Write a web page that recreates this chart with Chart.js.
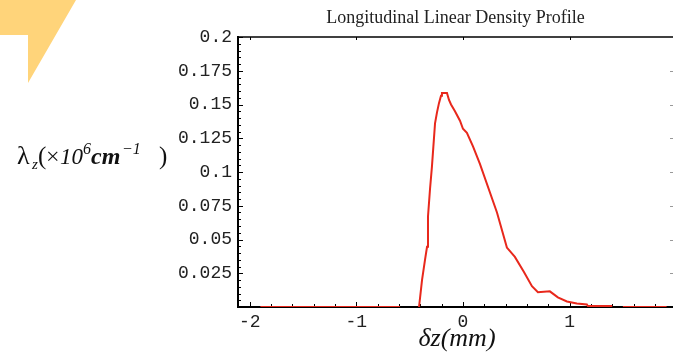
<!DOCTYPE html>
<html>
<head>
<meta charset="utf-8">
<script src="https://cdn.jsdelivr.net/npm/chart.js@4.4.1/dist/chart.umd.min.js"></script>
<style>
  html, body { margin: 0; padding: 0; background: #fff; }
  canvas { display: block; }
</style>
</head>
<body>
<canvas id="profileChart" width="673" height="354"></canvas>
<script>
// longitudinal position (mm) and linear density (x10^6 cm^-1), null = gap in the trace
const dzValues = [-1.9, -0.59, -0.5, -0.412, -0.384, -0.356, -0.337, -0.328, -0.309, -0.291,
  -0.262, -0.244, -0.225, -0.206, -0.197, -0.15, -0.131, -0.112, -0.075, -0.028,
  0, 0.037, 0.094, 0.159, 0.319, 0.412, 0.487, 0.572, 0.647, 0.703,
  0.815, 0.89, 0.975, 1.068, 1.162, 1.171, 1.4, 1.45, 1.5, 1.91];
const densityValues = [0, 0, null, 0, 0.0199, 0.0349, 0.0446, 0.0671, 0.0874, 0.104,
  0.136, 0.144, 0.151, 0.1565, 0.1586, 0.1586, 0.1534, 0.150, 0.145, 0.138,
  0.132, 0.129, 0.119, 0.106, 0.070, 0.044, 0.0371, 0.0259, 0.0154, 0.0109,
  0.0116, 0.0071, 0.0041, 0.0026, 0.0019, 0.0008, 0.0008, null, 0, 0];

const xTickValues = [-2, -1, 0, 1];
const xTickLabels = ['-2', '-1', '0', '1'];
const yTickValues = [0.025, 0.05, 0.075, 0.1, 0.125, 0.15, 0.175, 0.2];
const yTickLabels = ['0.025', '0.05', '0.075', '0.1', '0.125', '0.15', '0.175', '0.2'];

const chartTitle = 'Longitudinal Linear Density Profile';

function seg(ctx, x1, y1, x2, y2) {
  ctx.beginPath();
  ctx.moveTo(x1, y1);
  ctx.lineTo(x2, y2);
  ctx.stroke();
}

// frame, inward ticks, titles and the yellow corner mark
const framePlugin = {
  id: 'framePlugin',
  beforeDraw(chart) {
    const ctx = chart.ctx;
    ctx.save();
    ctx.fillStyle = '#fff';
    ctx.fillRect(0, 0, chart.width, chart.height);
    ctx.fillStyle = '#ffd47a';
    ctx.beginPath();
    ctx.moveTo(0, 0);
    ctx.lineTo(76, 0);
    ctx.lineTo(28, 83);
    ctx.lineTo(28, 35);
    ctx.lineTo(0, 35);
    ctx.closePath();
    ctx.fill();
    ctx.restore();
  },
  beforeDatasetsDraw(chart) {
    const { ctx, chartArea: a, scales: { x, y } } = chart;
    ctx.save();
    ctx.strokeStyle = '#000';
    ctx.lineWidth = 1.5;
    seg(ctx, a.left, a.top, a.right, a.top);
    ctx.lineWidth = 2;
    seg(ctx, a.left, a.top - 1, a.left, a.bottom + 1);
    seg(ctx, a.left, a.bottom, a.right, a.bottom);

    ctx.lineWidth = 1;
    for (let k = 1; k <= 40; k++) {
      const py = Math.round(y.getPixelForValue(k * 0.005)) + 0.5;
      const len = k % 5 === 0 ? 5 : 3;
      seg(ctx, a.left, py, a.left + len, py);
      if (k % 5 === 0 && k < 40) {
        ctx.strokeStyle = '#999';
        seg(ctx, a.right - 3, py, a.right, py);
        ctx.strokeStyle = '#000';
      }
    }
    for (let k = -10; k <= 9; k++) {
      const px = Math.round(x.getPixelForValue(k * 0.2)) + 0.5;
      const len = k % 5 === 0 ? 5 : 3;
      seg(ctx, px, a.bottom, px, a.bottom - len);
      if (k % 5 === 0) seg(ctx, px, a.top, px, a.top + 3);
    }
    ctx.restore();
  },
  afterDraw(chart) {
    const { ctx, chartArea: a } = chart;
    ctx.save();
    ctx.fillStyle = '#222';
    ctx.textBaseline = 'alphabetic';
    ctx.textAlign = 'center';
    ctx.font = '18px "Liberation Serif"';
    ctx.fillText(chartTitle, (a.left + a.right) / 2, 23);

    // x axis title
    ctx.fillStyle = '#111';
    ctx.font = 'italic 26px "Liberation Serif"';
    ctx.fillText('δz(mm)', 457, 346);

    // y axis title: λz(×10^6 cm^-1)
    ctx.textAlign = 'left';
    const base = 164;
    const parts = [
      ['λ', '26px "Liberation Serif"', 17, 0],
      ['z', 'italic 15px "Liberation Serif"', 32, 5],
      ['(', '25px "Liberation Serif"', 38, 0],
      ['×', '24px "Liberation Serif"', 46, 0],
      ['10', 'italic 23px "Liberation Serif"', 60, 0],
      ['6', 'italic 16px "Liberation Serif"', 83, -10],
      ['cm', 'bold italic 24px "Liberation Serif"', 91, 0],
      ['−1', 'italic 16px "Liberation Serif"', 122, -10],
      [')', '25px "Liberation Serif"', 159, 0]
    ];
    parts.forEach(([t, f, px, dy]) => {
      ctx.font = f;
      ctx.fillText(t, px, base + dy);
    });
    ctx.restore();
  }
};

const points = dzValues.map((v, i) => ({ x: v, y: densityValues[i] }));

new Chart(document.getElementById('profileChart'), {
  type: 'line',
  data: {
    datasets: [{
      data: points,
      borderColor: '#e8281c',
      borderWidth: 2,
      pointRadius: 0,
      tension: 0,
      spanGaps: false,
      fill: false
    }]
  },
  options: {
    responsive: false,
    animation: false,
    layout: { padding: { top: 37, left: 0, right: 0, bottom: 0 } },
    plugins: {
      legend: { display: false },
      title: { display: false },
      tooltip: { enabled: false }
    },
    scales: {
      x: {
        type: 'linear',
        min: -2.11,
        max: 1.97,
        grid: { display: false, drawTicks: false },
        border: { display: false },
        afterFit: s => { s.height = 47; },
        afterBuildTicks: s => { s.ticks = xTickValues.map(v => ({ value: v })); },
        ticks: {
          padding: 4,
          color: '#222',
          font: { family: '"Liberation Mono"', size: 18 },
          callback: v => xTickLabels[xTickValues.indexOf(v)]
        }
      },
      y: {
        type: 'linear',
        min: 0,
        max: 0.2,
        grid: { display: false, drawTicks: false },
        border: { display: false },
        afterFit: s => { s.width = 238; },
        afterBuildTicks: s => { s.ticks = yTickValues.map(v => ({ value: v })); },
        ticks: {
          padding: 6,
          color: '#222',
          font: { family: '"Liberation Mono"', size: 18 },
          callback: v => yTickLabels[yTickValues.indexOf(v)]
        }
      }
    }
  },
  plugins: [framePlugin]
});
</script>
</body>
</html>
